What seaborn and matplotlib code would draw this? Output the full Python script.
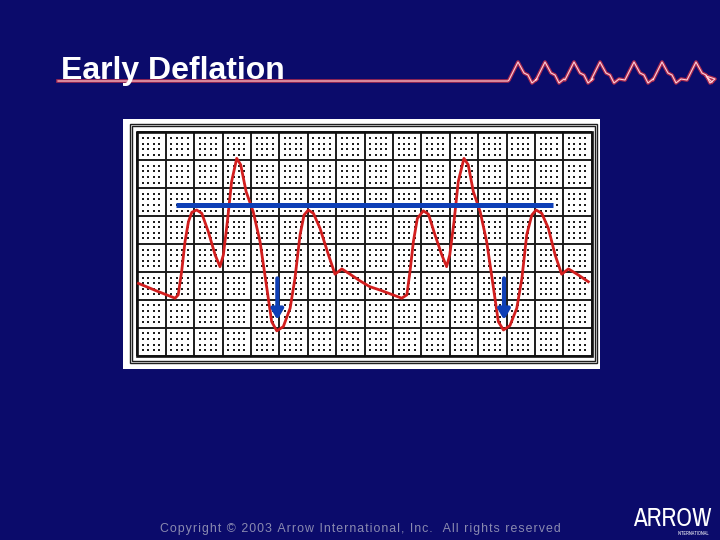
import numpy as np
import matplotlib
matplotlib.use("Agg")
import matplotlib.pyplot as plt
import seaborn as sns
from matplotlib.lines import Line2D
from matplotlib.patches import Rectangle

# waveform (grid units: 16 x 8 cells)
wave_x = [0.04, 0.68, 1.33, 1.44, 1.56, 1.68, 1.80, 1.92, 2.09, 2.27, 2.50, 2.74, 2.91,
          3.03, 3.17, 3.32, 3.50, 3.64, 3.83, 4.08, 4.32, 4.56, 4.73, 4.91, 5.14, 5.38,
          5.55, 5.73, 5.87, 6.02, 6.20, 6.43, 6.73, 6.96, 7.20, 7.49, 7.84, 8.19, 8.55,
          9.31, 9.49, 9.60, 9.72, 9.86, 10.07, 10.25, 10.48, 10.72, 10.89, 11.00, 11.15,
          11.30, 11.50, 11.65, 11.83, 12.07, 12.30, 12.54, 12.71, 12.89, 13.12, 13.36,
          13.54, 13.71, 13.89, 14.04, 14.24, 14.47, 14.71, 14.94, 15.18, 15.53, 15.88]
wave_y = [2.59, 2.32, 2.06, 2.18, 3.01, 4.09, 4.80, 5.14, 5.22, 5.10, 4.44, 3.61, 3.19,
          3.61, 4.80, 6.24, 7.07, 6.84, 5.88, 5.16, 4.09, 2.42, 1.22, 0.89, 1.04, 1.70,
          2.77, 4.33, 5.04, 5.22, 5.10, 4.57, 3.61, 2.92, 3.11, 2.92, 2.68, 2.47, 2.35,
          2.06, 2.18, 3.01, 4.09, 4.92, 5.19, 5.07, 4.33, 3.61, 3.19, 3.61, 4.80,
          6.24, 7.07, 6.84, 5.88, 5.16, 4.09, 2.42, 1.22, 0.92, 1.08, 1.70,
          2.77, 4.33, 5.04, 5.22, 5.10, 4.57, 3.61, 2.92, 3.11, 2.89, 2.65]

# blue reference line and arrows
ref_x = [1.36, 14.65]
ref_y = [5.4, 5.4]
arrow_x = [4.93, 12.91]
arrow_top = 2.77
arrow_tip = 1.28

n_cols, n_rows = 16, 8

BG = "#0b0b6b"
fig = plt.figure(figsize=(7.2, 5.4), dpi=100, facecolor=BG)

# white panel holding the grid
ax = fig.add_axes([123 / 720, 1 - 369 / 540, 477 / 720, 250 / 540])
ax.set_facecolor("white")
ax.set_xlim(-0.504, 16.29)
ax.set_ylim(-0.477, 8.48)
ax.set_xticks([])
ax.set_yticks([])
for s in ax.spines.values():
    s.set_visible(False)

# outer double frame
for off in [0.0, 0.07]:
    ax.add_patch(Rectangle((-0.26 + off, -0.25 + off), 16.46 - 2 * off, 8.55 - 2 * off,
                           fill=False, ec="#1e1e1e", lw=1.0, zorder=2))

# grid lines
ax.vlines(np.arange(n_cols + 1), 0, n_rows, color="#1c1c1c", lw=1.4, zorder=2)
ax.hlines(np.arange(n_rows + 1), 0, n_cols, color="#1c1c1c", lw=1.4, zorder=2)
ax.add_patch(Rectangle((0, 0), n_cols, n_rows, fill=False, ec="#111111", lw=1.9, zorder=2))

# 4x4 dots in every cell
sub_x = np.array([0.2, 0.39, 0.58, 0.77])
sub_y = np.array([0.2, 0.4, 0.6, 0.8])
gx, gy = np.meshgrid((np.arange(n_cols)[:, None] + sub_x).ravel(),
                     (np.arange(n_rows)[:, None] + sub_y).ravel())
ax.scatter(gx.ravel(), gy.ravel(), s=3.2, marker="s", color="#1e1e1e", linewidths=0, zorder=2)

# red pressure waveform
sns.lineplot(x=wave_x, y=wave_y, ax=ax, sort=False, estimator=None,
             color="#d21e1e", lw=2.0, zorder=4)

# blue line and arrows
ax.plot(ref_x, ref_y, color="#0e3fb6", lw=3.6, solid_capstyle="butt", zorder=5)
for xa in arrow_x:
    ax.annotate("", xy=(xa, arrow_tip), xytext=(xa, arrow_top),
                arrowprops=dict(arrowstyle="-|>,head_width=0.35,head_length=0.6",
                                color="#0e3fb6", lw=3, mutation_scale=10,
                                shrinkA=0, shrinkB=0),
                zorder=6)

ax.set_xlabel("")
ax.set_ylabel("")

# title
fig.text(61 / 720, 1 - 79 / 540, "Early Deflation", color="white", fontsize=23,
         weight="bold", family=["Liberation Sans", "DejaVu Sans"], va="baseline")

# underline and small decorative trace
px = [58, 508]
py = [81, 81]
peaks = [518, 545, 574, 600, 634, 662, 696]
for p in peaks:
    px += [p - 9, p, p + 6, p + 10, p + 14, p + 19]
    py += [80, 62, 73, 75, 83, 79]
px += [706, 712]
py += [76, 82]
fx = [v / 720 for v in px]
fy = [1 - v / 540 for v in py]
fig.add_artist(Line2D(fx, fy, color="#c8304a", lw=2.6, alpha=0.85, solid_joinstyle="round"))
fig.add_artist(Line2D(fx, fy, color="#ffd0d8", lw=0.8, solid_joinstyle="round"))

# footer (letter-spaced with hair spaces)
footer = "Copyright \u00a9 2003 Arrow International, Inc.  All rights reserved"
fig.text(360 / 720, 1 - 529 / 540, "\u200a".join(footer),
         color="#8a8ab0", fontsize=8.9, family=["Liberation Sans", "DejaVu Sans"],
         ha="center", va="center")

# logo
logo_fonts = ["Archivo Narrow", "PT Sans Narrow", "Roboto Condensed",
              "Liberation Sans Narrow", "Liberation Sans"]
fig.text(712 / 720, 1 - 526 / 540, "ARROW", color="white", fontsize=18,
         family=logo_fonts, ha="right", va="baseline")
fig.text(709 / 720, 1 - 535 / 540, "INTERNATIONAL", color="white", fontsize=3.4,
         weight="bold", family=logo_fonts, ha="right", va="baseline")

fig.savefig("out.png", dpi=100, facecolor=BG)
